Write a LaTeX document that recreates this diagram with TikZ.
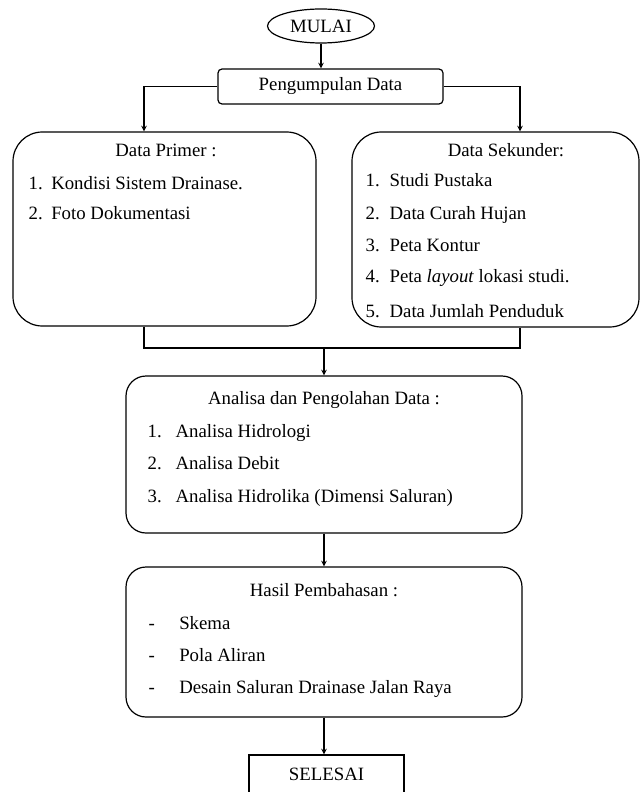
\documentclass[tikz,border=0pt]{standalone}
\usepackage{fontspec}
\setmainfont{Liberation Serif}
\usetikzlibrary{shapes.geometric}
\newcommand{\numlbl}[2][17pt]{\makebox[#1][l]{#2}}

\begin{document}
\begin{tikzpicture}[x=0.75pt,y=-0.75pt,line width=0.9pt,
    every node/.style={font=\fontsize{14.1}{17}\selectfont},
    bigbox/.style={draw,rounded corners=22pt,inner sep=0pt},
    midbox/.style={draw,rounded corners=15pt,inner sep=0pt},
    item/.style={anchor=west,inner sep=0pt,text height=10pt,text depth=3pt},
    title/.style={inner sep=0pt,text height=10pt,text depth=3pt}]
              \useasboundingbox (0,0) rectangle (641,792);

              \node[draw,ellipse,minimum width={107*0.75pt},minimum height={34*0.75pt},inner sep=0pt] (mulai) at (321,26) {MULAI};
              \node[draw,rounded corners=3pt,minimum width={225*0.75pt},minimum height={35*0.75pt},inner sep=0pt] (kumpul) at (330.5,86.5) {Pengumpulan Data};

              \node[bigbox,minimum width={303*0.75pt},minimum height={194*0.75pt}] (primer) at (164.5,229) {};
              \node[bigbox,minimum width={287*0.75pt},minimum height={195*0.75pt}] (sekunder) at (495.5,229.5) {};
              \node[midbox,minimum width={396*0.75pt},minimum height={157*0.75pt}] (analisa) at (324,454.5) {};
              \node[midbox,minimum width={396*0.75pt},minimum height={150*0.75pt}] (hasil) at (324,642) {};
              \node[draw,minimum width={155*0.75pt},minimum height={38*0.75pt},inner sep=0pt] (selesai) at (326.5,774) {SELESAI};

              %primer
              \node[title] (tprimer) at (166,152) {Data Primer :};
              \node[item] (p1) at (28,185) {\numlbl{1.}Kondisi Sistem Drainase.};
              \node[item] (p2) at (28,215) {\numlbl{2.}Foto Dokumentasi};

              %sekunder
              \node[title] (tsekunder) at (506,152) {Data Sekunder:};
              \node[item] (s1) at (365,182) {\numlbl[18pt]{1.}Studi Pustaka};
              \node[item] (s2) at (365,215) {\numlbl[18pt]{2.}Data Curah Hujan};
              \node[item] (s3) at (365,247) {\numlbl[18pt]{3.}Peta Kontur};
              \node[item] (s4) at (365,278) {\numlbl[18pt]{4.}Peta \textit{layout} lokasi studi.};
              \node[item] (s5) at (365,313) {\numlbl[18pt]{5.}Data Jumlah Penduduk};

              %analisa
              \node[title] (tanalisa) at (324,400) {Analisa dan Pengolahan Data :};
              \node[item] (a1) at (147,433) {\numlbl[21pt]{1.}Analisa Hidrologi};
              \node[item] (a2) at (147,465) {\numlbl[21pt]{2.}Analisa Debit};
              \node[item] (a3) at (147,498) {\numlbl[21pt]{3.}Analisa Hidrolika (Dimensi Saluran)};

              %hasil
              \node[title] (thasil) at (324,592) {Hasil Pembahasan :};
              \node[item] (h1) at (148,625) {\numlbl[23pt]{-}Skema};
              \node[item] (h2) at (148,657) {\numlbl[23pt]{-}Pola Aliran};
              \node[item] (h3) at (148,689) {\numlbl[23pt]{-}Desain Saluran Drainase Jalan Raya};

              \coordinate (pin) at (144,0);
              \coordinate (sin) at (520,0);
              \coordinate (join) at (324,348);

              %mulai>kumpul
              \draw[-stealth] (mulai.south) -- (mulai.south |- kumpul.north);
              %kumpul>primer, kumpul>sekunder
              \draw[-stealth] (kumpul.west) -| (pin |- primer.north);
              \draw[-stealth] (kumpul.east) -| (sin |- sekunder.north);
              %primer,sekunder>analisa
              \draw (pin |- primer.south) |- (join) -| (sin |- sekunder.south);
              \draw[-stealth] (join) -- (analisa.north);
              \draw[-stealth] (analisa.south) -- (hasil.north);
              \draw[-stealth] (hasil.south) -- (hasil.south |- selesai.north);
            \end{tikzpicture}
\end{document}
